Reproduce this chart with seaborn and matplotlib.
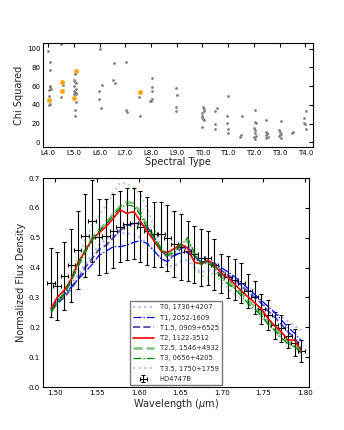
import numpy as np
import pandas as pd
import matplotlib
matplotlib.use('Agg')
import matplotlib.pyplot as plt
import seaborn as sns

# ---- top panel: chi squared vs spectral type (0 = L4.0, 6 = T0.0) ----
type_ticks = ['L4.0', 'L5.0', 'L6.0', 'L7.0', 'L8.0', 'L9.0',
              'T0.0', 'T1.0', 'T2.0', 'T3.0', 'T4.0']

grey_type = [0.0, 0.09, 0.06, 0.06, 0.09, 0.1, 0.04, 0.03, 0.06, 0.04,
             0.51, 0.49, 0.56,
             1.04, 1.08, 1.0, 1.04, 1.08, 1.0, 1.08, 1.04, 1.1, 1.0, 1.08, 1.1, 1.04, 1.04, 1.0,
             2.01, 1.98, 1.98, 2.09, 2.07,
             2.53, 2.59, 2.56,
             3.04, 3.02, 3.08,
             3.54, 3.56,
             4.03, 4.02, 4.02, 3.99, 4.05, 3.95,
             4.99, 5.03, 4.99, 4.99,
             6.02, 6.05, 6.0, 5.97, 6.0, 6.02, 6.06, 5.97, 6.05,
             6.48, 6.57, 6.48, 6.48,
             7.01, 6.97, 6.96, 7.01, 7.01,
             7.54, 7.51, 7.47,
             8.04, 8.04, 8.07, 8.02, 8.04, 8.04, 7.99, 8.04, 8.07,
             8.48, 8.46, 8.52, 8.48, 8.55, 8.46, 8.52,
             9.04, 8.98, 9.0, 9.04, 8.98, 9.07, 9.0,
             9.47, 9.53,
             10.01, 9.96, 9.94, 10.0, 10.01]
grey_chi = [97.2, 85.5, 77.3, 59.9, 59.2, 56.4, 55.7, 49.6, 40.8, 39.4,
            104.6, 48.6, 61.7,
            73.4, 75.0, 67.0, 64.5, 62.8, 60.0, 57.4, 54.0, 52.8, 52.0, 51.4, 42.5, 35.0, 28.4, 54.6,
            100.0, 55.0, 45.7, 61.3, 36.2,
            66.3, 62.8, 84.8,
            86.2, 34.4, 32.6,
            48.6, 28.0,
            69.1, 59.2, 55.0, 44.3, 46.1, 44.0,
            58.5, 50.0, 37.9, 33.7,
            37.2, 35.5, 30.9, 28.0, 26.6, 24.8, 23.8, 16.7, 33.0,
            33.3, 36.9, 19.1, 13.8,
            49.6, 28.0, 20.9, 14.5, 10.3,
            28.4, 7.8, 6.0,
            34.0, 22.0, 20.6, 14.9, 13.5, 9.6, 6.0, 3.9, 6.7,
            23.8, 11.3, 10.3, 7.8, 6.0, 5.0, 8.9,
            22.7, 13.1, 10.6, 8.5, 6.7, 5.0, 7.5,
            10.3, 11.0,
            33.3, 26.2, 20.2, 19.1, 13.8]

orange_type = [0.03, 0.53, 0.53, 1.1, 1.02, 3.59]
orange_chi = [45.0, 64.5, 55.3, 75.9, 47.2, 53.5]

# ---- bottom panel: HD4747B spectrum and template fits ----
wave = [1.4948, 1.5020, 1.5108, 1.5189, 1.5268, 1.5357, 1.5441, 1.5520, 1.5609, 1.5697,
        1.5778, 1.5857, 1.5944, 1.6022, 1.6106, 1.6190, 1.6268, 1.6346, 1.6430, 1.6511,
        1.6590, 1.6671, 1.6755, 1.6833, 1.6911, 1.6995, 1.7076, 1.7155, 1.7236, 1.7316,
        1.7398, 1.7476, 1.7557, 1.7636, 1.7716, 1.7797, 1.7876, 1.7957]

hd_flux = [0.350, 0.339, 0.371, 0.407, 0.459, 0.507, 0.557, 0.503, 0.506, 0.523,
           0.537, 0.545, 0.548, 0.537, 0.523, 0.511, 0.511, 0.498, 0.478, 0.468,
           0.455, 0.444, 0.433, 0.431, 0.410, 0.380, 0.368, 0.360, 0.349, 0.322,
           0.300, 0.262, 0.240, 0.207, 0.197, 0.170, 0.148, 0.120]
hd_err = [0.115, 0.113, 0.114, 0.122, 0.132, 0.138, 0.137, 0.127, 0.124, 0.125,
          0.120, 0.120, 0.120, 0.120, 0.115, 0.110, 0.110, 0.110, 0.110, 0.110,
          0.100, 0.095, 0.095, 0.090, 0.085, 0.065, 0.070, 0.070, 0.066, 0.058,
          0.055, 0.050, 0.050, 0.045, 0.045, 0.040, 0.045, 0.037]
wave_err = 0.0044

t0_flux = [0.270, 0.295, 0.320, 0.345, 0.375, 0.410, 0.445, 0.475, 0.495, 0.510,
           0.515, 0.515, 0.510, 0.500, 0.480, 0.455, 0.430, 0.405, 0.405, 0.420,
           0.425, 0.400, 0.385, 0.390, 0.385, 0.375, 0.365, 0.355, 0.335, 0.320,
           0.300, 0.285, 0.265, 0.250, 0.235, 0.220, 0.205, 0.190]
t1_flux = [0.265, 0.290, 0.310, 0.335, 0.360, 0.385, 0.410, 0.440, 0.455, 0.470,
           0.470, 0.475, 0.485, 0.490, 0.480, 0.455, 0.430, 0.420, 0.440, 0.450,
           0.450, 0.430, 0.420, 0.420, 0.415, 0.400, 0.385, 0.370, 0.350, 0.330,
           0.310, 0.290, 0.270, 0.250, 0.225, 0.200, 0.180, 0.155]
t15_flux = [0.260, 0.280, 0.300, 0.330, 0.360, 0.400, 0.430, 0.460, 0.475, 0.500,
            0.525, 0.540, 0.548, 0.548, 0.535, 0.500, 0.460, 0.435, 0.440, 0.465,
            0.470, 0.440, 0.415, 0.420, 0.410, 0.390, 0.375, 0.360, 0.340, 0.320,
            0.300, 0.280, 0.255, 0.235, 0.210, 0.185, 0.165, 0.130]
t2_flux = [0.263, 0.300, 0.325, 0.360, 0.415, 0.455, 0.495, 0.515, 0.537, 0.565,
           0.593, 0.582, 0.587, 0.555, 0.520, 0.488, 0.456, 0.450, 0.464, 0.478,
           0.465, 0.418, 0.412, 0.425, 0.410, 0.380, 0.366, 0.345, 0.322, 0.302,
           0.282, 0.262, 0.230, 0.205, 0.185, 0.157, 0.157, 0.120]
t25_flux = [0.255, 0.285, 0.315, 0.360, 0.410, 0.460, 0.500, 0.525, 0.550, 0.580,
            0.605, 0.620, 0.615, 0.585, 0.540, 0.500, 0.465, 0.445, 0.455, 0.480,
            0.490, 0.440, 0.415, 0.425, 0.410, 0.370, 0.355, 0.335, 0.315, 0.290,
            0.270, 0.250, 0.220, 0.195, 0.175, 0.150, 0.140, 0.120]
t3_flux = [0.250, 0.280, 0.310, 0.355, 0.400, 0.450, 0.490, 0.520, 0.545, 0.575,
           0.600, 0.610, 0.605, 0.575, 0.530, 0.495, 0.460, 0.440, 0.450, 0.475,
           0.500, 0.450, 0.410, 0.415, 0.400, 0.365, 0.345, 0.330, 0.305, 0.280,
           0.260, 0.240, 0.210, 0.190, 0.165, 0.145, 0.135, 0.115]
t35_flux = [0.255, 0.280, 0.320, 0.370, 0.430, 0.490, 0.540, 0.570, 0.610, 0.650,
            0.685, 0.680, 0.665, 0.645, 0.595, 0.530, 0.470, 0.440, 0.440, 0.455,
            0.450, 0.400, 0.375, 0.365, 0.385, 0.350, 0.330, 0.310, 0.295, 0.275,
            0.255, 0.235, 0.210, 0.185, 0.160, 0.140, 0.125, 0.110]

models = [
    ('T0, 1730+4207', t0_flux, dict(color='blue', alpha=0.3, ls=':', lw=1.5)),
    ('T1, 2052-1609', t1_flux, dict(color='blue', ls='-.', lw=0.9)),
    ('T1.5, 0909+6525', t15_flux, dict(color='darkblue', alpha=0.65, ls='--', lw=1.4)),
    ('T2, 1122-3512', t2_flux, dict(color='red', ls='-', lw=1.2)),
    ('T2.5, 1546+4932', t25_flux, dict(color='green', alpha=0.5, ls='--', lw=1.8)),
    ('T3, 0656+4205', t3_flux, dict(color='green', ls='-.', lw=0.9)),
    ('T3.5, 1750+1759', t35_flux, dict(color='green', alpha=0.3, ls=':', lw=1.5)),
]

sns.set_style('white')
plt.rcParams['font.family'] = ['DejaVu Sans']
plt.rcParams['xtick.direction'] = 'in'
plt.rcParams['ytick.direction'] = 'in'
plt.rcParams['xtick.top'] = True
plt.rcParams['ytick.right'] = True
plt.rcParams['xtick.major.size'] = 3
plt.rcParams['ytick.major.size'] = 3
plt.rcParams['axes.linewidth'] = 0.8
plt.rcParams['axes.edgecolor'] = 'black'

fig = plt.figure(figsize=(3.44, 4.30), dpi=100)
ax1 = fig.add_axes([43 / 344, 1 - 147 / 430, 270 / 344, 104 / 430])
ax2 = fig.add_axes([43 / 344, 1 - 387 / 430, 266 / 344, 209 / 430])

# top panel
sns.scatterplot(x=grey_type, y=grey_chi, ax=ax1, color='grey', s=4, linewidth=0)
sns.scatterplot(x=orange_type, y=orange_chi, ax=ax1, color='orange', s=12, linewidth=0)
ax1.set_xlim(-0.2, 10.3)
ax1.set_ylim(-5, 106)
ax1.set_xticks(range(len(type_ticks)))
ax1.set_xticklabels(type_ticks)
ax1.set_yticks([0, 20, 40, 60, 80, 100])
ax1.tick_params(labelsize=5, pad=2, colors='black')
ax1.set_xlabel('Spectral Type', fontsize=7, labelpad=1)
ax1.set_ylabel('Chi Squared', fontsize=7, labelpad=2)

# bottom panel
ax2.errorbar(wave, hd_flux, xerr=wave_err, yerr=hd_err, fmt='none', ecolor='black',
             elinewidth=0.8, capsize=1.5, capthick=0.8, label='HD4747B', zorder=1)
for name, flux, style in models:
    sns.lineplot(x=wave, y=flux, ax=ax2, label=name, zorder=3, **style)

ax2.set_xlim(1.485, 1.805)
ax2.set_ylim(0.0, 0.7)
ax2.set_xticks([1.50, 1.55, 1.60, 1.65, 1.70, 1.75, 1.80])
ax2.set_xticklabels(['1.50', '1.55', '1.60', '1.65', '1.70', '1.75', '1.80'])
ax2.set_yticks([0.0, 0.1, 0.2, 0.3, 0.4, 0.5, 0.6, 0.7])
ax2.tick_params(labelsize=5, pad=2, colors='black')
ax2.set_xlabel(r'Wavelength ($\mu$m)', fontsize=7, labelpad=1)
ax2.set_ylabel('Normalized Flux Density', fontsize=7, labelpad=2)

leg = ax2.legend(loc='lower center', fontsize=4.9, frameon=True, fancybox=False,
                 borderaxespad=0.3, handlelength=3.0, labelspacing=0.62,
                 borderpad=0.45, handletextpad=0.9)
leg.get_frame().set_edgecolor('0.35')
leg.get_frame().set_linewidth(1.0)

fig.savefig('out.png', dpi=100, facecolor='white')
